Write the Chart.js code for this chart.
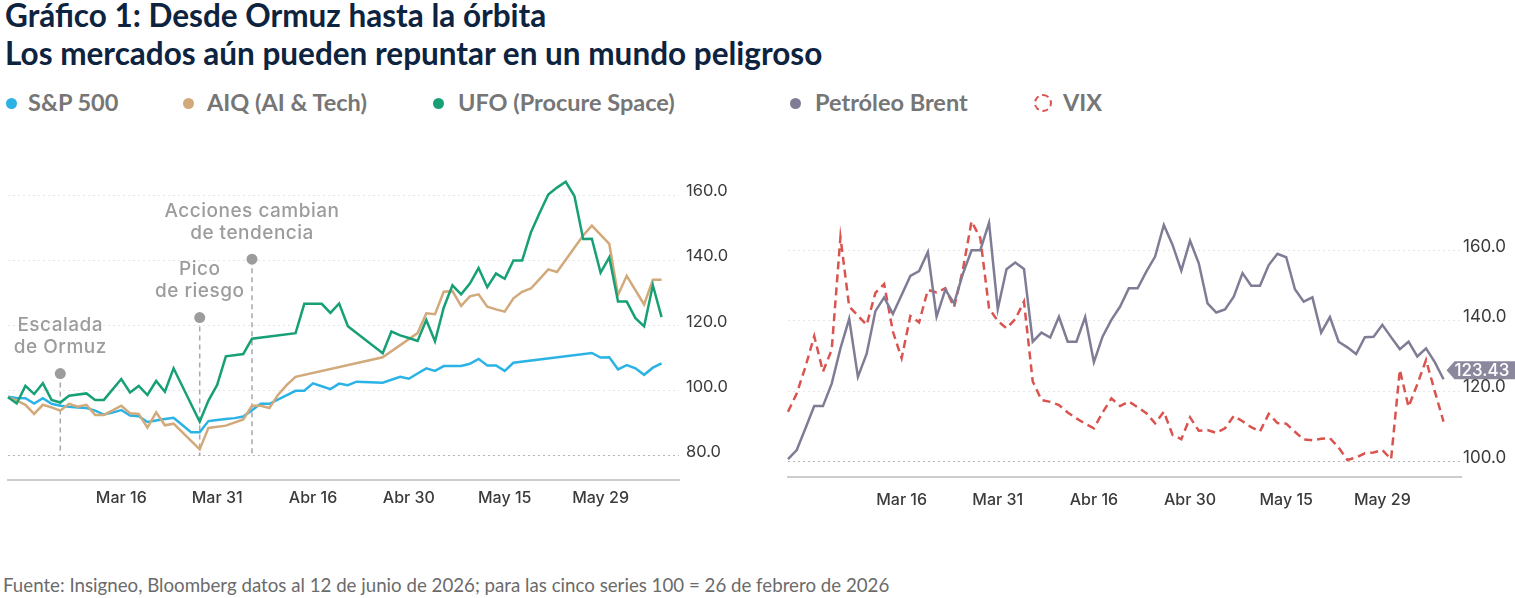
<!DOCTYPE html>
<html lang="es">
<head>
<meta charset="utf-8">
<title>Gráfico 1: Desde Ormuz hasta la órbita</title>
<script src="https://cdn.jsdelivr.net/npm/chart.js@4.4.1/dist/chart.umd.min.js"></script>
<style>
  body { margin: 0; background: #fff; }
  #page { position: relative; width: 1515px; height: 598px; overflow: hidden; font-family: Lato, sans-serif; }
  .title { position: absolute; left: 5px; color: #0d2340; font-weight: 700; font-size: 31.5px; white-space: nowrap; line-height: 1; }
  .lg { position: absolute; top: 90px; font-weight: 700; font-size: 23.5px; color: #767676; white-space: nowrap; line-height: 24px; }
  .dot { position: absolute; top: 98px; width: 11px; height: 11px; border-radius: 50%; }
  .ring { position: absolute; top: 94px; width: 14px; height: 14px; border-radius: 50%; border: 2.5px dashed #d9534f; }
  #foot { position: absolute; left: 3px; top: 575px; font-size: 18.7px; line-height: 20px; color: #6b6b6b; white-space: nowrap; }
  canvas { position: absolute; top: 130px; }
</style>
</head>
<body>
<div id="page">
  <div class="title" style="top:0">Gráfico 1: Desde Ormuz hasta la órbita</div>
  <div class="title" style="top:38px">Los mercados aún pueden repuntar en un mundo peligroso</div>

  <span class="dot" style="left:6px;background:#2bb3e6"></span><span class="lg" style="left:28px">S&amp;P 500</span>
  <span class="dot" style="left:183px;background:#d2a97a"></span><span class="lg" style="left:207px">AIQ (AI &amp; Tech)</span>
  <span class="dot" style="left:433px;background:#17a076"></span><span class="lg" style="left:458px">UFO (Procure Space)</span>
  <span class="dot" style="left:790px;background:#7f7d95"></span><span class="lg" style="left:815px">Petróleo Brent</span>
  <span class="ring" style="left:1034px"></span><span class="lg" style="left:1063px">VIX</span>

  <canvas id="left" width="739" height="390" style="left:0"></canvas>
  <canvas id="right" width="735" height="390" style="left:780px"></canvas>

  <div id="foot">Fuente: Insigneo, Bloomberg datos al 12 de junio de 2026; para las cinco series 100 = 26 de febrero de 2026</div>
</div>
<script>
// trading sessions (last two are empty padding on the axis)
const sessions = [
  'Feb 25','Feb 26','Feb 27','Mar 2','Mar 3','Mar 4','Mar 5','Mar 6','Mar 9','Mar 10','Mar 11','Mar 12','Mar 13',
  'Mar 16','Mar 17','Mar 18','Mar 19','Mar 20','Mar 23','Mar 24','Mar 25','Mar 26','Mar 27','Mar 30','Mar 31',
  'Abr 1','Abr 2','Abr 6','Abr 7','Abr 8','Abr 9','Abr 10','Abr 13','Abr 14','Abr 15','Abr 16',
  'Abr 17','Abr 20','Abr 21','Abr 22','Abr 23','Abr 24','Abr 27','Abr 28','Abr 29','Abr 30',
  'May 1','May 4','May 5','May 6','May 7','May 8','May 11','May 12','May 13','May 14','May 15',
  'May 18','May 19','May 20','May 21','May 22','May 26','May 27','May 28','May 29',
  'Jun 1','Jun 2','Jun 3','Jun 4','Jun 5','Jun 8','Jun 9','Jun 10','Jun 11','Jun 12','Jun 15','Jun 16'
];
const xTickAt = [13, 24, 35, 46, 57, 68];
const xTickText = ['Mar 16', 'Mar 31', 'Abr 16', 'Abr 30', 'May 15', 'May 29'];
const leftTicks = [80, 100, 120, 140, 160];
const rightTicks = [100, 120, 140, 160];

const spx = [98.2,97.8,97.7,96.1,97.7,96.0,95.4,95.1,94.9,94.7,93.9,92.7,93.3,94.1,92.4,92.2,90.4,90.9,91.3,91.7,
  89.5,87.3,87.3,90.7,91.0,91.3,91.6,92.1,94.0,96.0,96.0,null,null,100.0,100.0,102.3,101.4,100.5,102.2,101.7,
  102.8,null,null,102.5,103.4,104.3,103.7,105.3,106.9,106.1,107.6,107.6,107.6,108.3,109.8,107.8,107.8,106.1,108.6,null,
  null,null,null,null,null,null,null,111.6,110.2,110.3,106.6,107.9,106.9,104.9,107.1,108.4];
const aiq = [98.0,97.0,95.7,92.9,95.7,94.9,93.9,96.0,95.1,95.7,92.6,92.6,94.0,95.4,93.1,92.9,88.7,93.4,89.4,89.9,
  null,null,82.0,88.6,null,89.3,null,91.2,95.4,95.4,94.7,98.8,101.8,104.3,null,null,null,null,null,null,
  null,null,null,110.3,null,null,null,117.7,123.8,123.5,130.4,130.6,126.1,129.0,129.6,125.8,125.0,124.3,128.4,130.4,
  131.4,134.3,137.3,136.5,null,null,147.7,150.7,null,145.1,129.4,135.3,null,126.5,134.1,134.1];
const ufo = [98.0,96.1,101.5,99.0,102.3,97.2,96.4,98.5,null,99.2,97.2,97.2,null,103.6,99.5,101.5,98.7,103.0,99.7,106.9,
  null,null,90.5,97.0,101.8,110.6,null,111.3,116.0,null,null,null,null,117.7,126.7,126.7,126.7,123.9,126.8,119.8,
  null,null,null,111.5,118.2,117.0,116.2,115.3,121.7,115.2,125.5,132.4,129.6,132.9,137.7,131.8,136.0,134.4,140.0,140.0,
  148.6,154.6,160.3,162.4,164.2,159.8,146.6,146.7,136.3,141.0,127.4,127.4,122.3,119.8,132.4,122.6];
const brent = [100.7,103.3,109.5,115.8,115.8,122.2,132.2,140.6,124.1,130.7,142.8,146.7,142.0,147.4,152.8,154.2,159.6,141.2,148.9,145.0,
  153.3,160.1,160.1,167.9,143.4,154.7,156.6,154.8,134.1,136.7,135.3,141.2,134.1,134.1,141.1,128.3,135.6,140.3,144.1,149.3,
  149.3,154.0,158.3,167.3,161.6,154.3,162.8,156.4,145.0,142.4,143.3,146.9,153.6,150.0,150.0,155.9,159.1,158.1,149.0,145.5,
  146.7,136.7,141.1,134.1,132.5,130.6,135.4,135.5,138.9,135.4,132.0,134.1,129.9,132.2,128.3,123.43];
const vix = [114.2,119.4,127.0,135.7,125.6,131.8,163.8,144.1,141.5,138.9,148.0,150.5,137.0,129.4,141.4,139.6,148.8,148.1,149.3,143.9,
  154.5,168.3,163.6,143.6,140.0,137.9,140.5,145.5,122.8,117.5,117.0,116.1,114.0,112.3,110.8,109.5,114.0,118.0,115.8,117.1,
  115.5,113.8,110.9,114.2,107.6,106.4,112.6,108.8,109.0,108.2,109.5,113.0,111.5,109.8,108.6,113.6,111.0,110.8,108.5,106.3,
  106.1,106.5,106.7,104.0,100.5,101.2,102.4,102.6,103.3,100.7,126.1,115.6,122.0,128.9,120.0,111.4];

const events = [
  { at: 6, dot: 105.3, lines: ['Escalada', 'de Ormuz'] },
  { at: 22, dot: 122.5, lines: ['Pico', 'de riesgo'] },
  { at: 28, dot: 140.4, lines: ['Acciones cambian', 'de tendencia'] }
];

Chart.defaults.font.family = 'Inter, sans-serif';

function line(label, data, color, dash) {
  return {
    label: label, data: data, borderColor: color, backgroundColor: color,
    borderWidth: 2.5, borderDash: dash || [], pointRadius: 0, tension: 0, spanGaps: true, fill: false
  };
}

function opts(o) {
  return {
    responsive: false, animation: false, devicePixelRatio: 1,
    layout: { padding: { left: 8, top: o.top, right: 0, bottom: 0 } },
    plugins: { legend: { display: false }, tooltip: { enabled: false } },
    scales: {
      x: {
        grid: { display: false },
        border: { display: true, color: '#cdcdcd', width: 2 },
        ticks: {
          autoSkip: false, maxRotation: 0, padding: o.xPad, color: '#3b3b3b',
          font: { size: 16, weight: 500 },
          callback: (v, i) => { const k = xTickAt.indexOf(i); return k < 0 ? '' : xTickText[k]; }
        },
        afterFit: s => { s.height = o.xh; }
      },
      y: {
        position: 'right', min: o.min, max: o.max,
        afterBuildTicks: s => { s.ticks = o.ticks.map(v => ({ value: v })); },
        afterFit: s => { s.width = o.yw; },
        border: { display: false, dash: [2, 3] },
        grid: { drawTicks: false, color: c => (c.tick && c.tick.value === o.ticks[0]) ? '#b5b5b5' : '#e6e6e6' },
        ticks: { padding: o.yPad, labelOffset: -4, color: '#3b3b3b', font: { size: o.yFont }, callback: v => v.toFixed(1) }
      }
    }
  };
}

const eventMarks = {
  id: 'eventMarks',
  beforeDatasetsDraw(chart) {
    const { ctx, scales: { x, y } } = chart;
    ctx.save();
    events.forEach(ev => {
      const px = x.getPixelForValue(ev.at);
      const py = y.getPixelForValue(ev.dot);
      ctx.strokeStyle = '#a8a8a8';
      ctx.lineWidth = 1.5;
      ctx.setLineDash([5, 4]);
      ctx.beginPath();
      ctx.moveTo(px, py);
      ctx.lineTo(px, y.getPixelForValue(leftTicks[0]));
      ctx.stroke();
      ctx.setLineDash([]);
      ctx.fillStyle = '#9c9c9c';
      ctx.beginPath();
      ctx.arc(px, py, 5.5, 0, Math.PI * 2);
      ctx.fill();
      ctx.font = '500 19px Inter';
      ctx.letterSpacing = '0.5px';
      ctx.textAlign = 'center';
      ctx.textBaseline = 'middle';
      const n = ev.lines.length;
      ev.lines.forEach((t, k) => ctx.fillText(t, px, py - 26 - (n - 1 - k) * 22));
    });
    ctx.restore();
  }
};

const lastTag = {
  id: 'lastTag',
  afterDatasetsDraw(chart) {
    const ctx = chart.ctx;
    const pts = chart.getDatasetMeta(0).data;
    const p = pts[pts.length - 1];
    const v = chart.data.datasets[0].data[pts.length - 1];
    const x0 = p.x + 3, cy = p.y - 9, h = 18;
    ctx.save();
    ctx.fillStyle = '#8b889e';
    ctx.beginPath();
    ctx.moveTo(x0, cy);
    ctx.lineTo(x0 + 8, cy - h / 2);
    ctx.lineTo(chart.width, cy - h / 2);
    ctx.lineTo(chart.width, cy + h / 2);
    ctx.lineTo(x0 + 8, cy + h / 2);
    ctx.closePath();
    ctx.fill();
    ctx.fillStyle = '#ffffff';
    ctx.font = '500 17px Inter';
    ctx.textAlign = 'left';
    ctx.textBaseline = 'middle';
    ctx.fillText(v.toFixed(2), x0 + 8, cy + 1);
    ctx.restore();
  }
};

new Chart(document.getElementById('left'), {
  type: 'line',
  data: {
    labels: sessions,
    datasets: [
      line('UFO (Procure Space)', ufo, '#17a076'),
      line('AIQ (AI & Tech)', aiq, '#d2a97a'),
      line('S&P 500', spx, '#2bb3e6')
    ]
  },
  options: opts({ top: 14, xh: 40, xPad: 1, yw: 60, yPad: 7, yFont: 16.5, min: 72.6, max: 174.9, ticks: leftTicks }),
  plugins: [eventMarks]
});

new Chart(document.getElementById('right'), {
  type: 'line',
  data: {
    labels: sessions,
    datasets: [
      line('Petróleo Brent', brent, '#7f7d95'),
      line('VIX', vix, '#d9534f', [8, 5])
    ]
  },
  options: opts({ top: 65, xh: 43, xPad: 6, yw: 54, yPad: 2, yFont: 17, min: 95.65, max: 175.8, ticks: rightTicks }),
  plugins: [lastTag]
});
</script>
</body>
</html>
